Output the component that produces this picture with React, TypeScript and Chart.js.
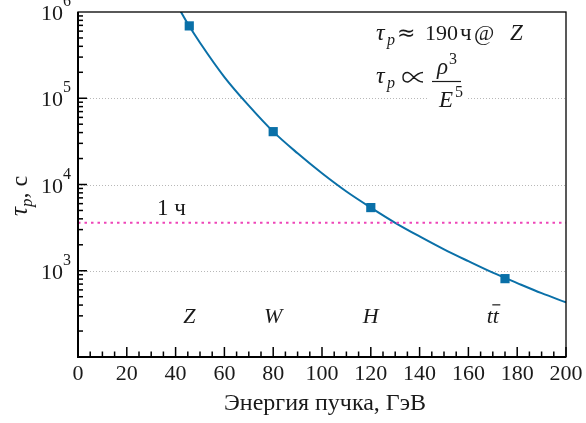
import React, { useEffect, useRef } from "react";
import { Chart, registerables } from "chart.js";

Chart.register(...registerables);

// Curve: beam energy (GeV) vs lifetime (s)
const curveEnergy = [41, 45, 50, 60, 70, 80, 90, 100, 110, 120, 130, 140, 150, 160, 170, 180, 190, 200];
const curveLifetime = [1.15e6, 7.3e5, 4.4e5, 1.76e5, 8.2e4, 4.1e4, 2.3e4, 1.35e4, 8.3e3, 5.4e3, 3.6e3, 2.5e3, 1.77e3, 1.29e3, 9.5e2, 7.2e2, 5.5e2, 4.3e2];

// Operating points
const pointEnergy = [45.6, 80, 120, 175];
const pointLifetime = [6.9e5, 4.1e4, 5.4e3, 8.1e2];
const pointNames = ["Z", "W", "H", "tt"];
const nameEnergy = [45.6, 80, 120, 170];
const nameLifetime = [300, 300, 300, 300];

const oneHour = 3600;
const hourLineEnergy = [0, 200];

const xTicks = [0, 20, 40, 60, 80, 100, 120, 140, 160, 180, 200];
const yDecades = [3, 4, 5, 6];
const gridDecades = [3, 4, 5];

const FONT = '"Liberation Serif", "DejaVu Serif", serif';
const SYM = '"DejaVu Sans", "DejaVu Serif", sans-serif';
const BLUE = "#0a70a8";
const PINK = "#ee45b8";

const decorPlugin = {
  id: "decor",
  beforeDatasetsDraw(chart: any) {
    const { ctx, chartArea: a, scales } = chart;
    const y = scales.y;
    ctx.save();
    ctx.strokeStyle = "#b8b8b8";
    ctx.lineWidth = 1;
    ctx.setLineDash([1, 2]);
    for (const d of gridDecades) {
      const py = Math.round(y.getPixelForValue(Math.pow(10, d))) + 0.5;
      ctx.beginPath();
      ctx.moveTo(a.left, py);
      ctx.lineTo(a.right, py);
      ctx.stroke();
    }
    ctx.setLineDash([]);
    // white patch behind formula denominator
    ctx.fillStyle = "#fff";
    ctx.fillRect(428, 88, 40, 22);
    ctx.restore();
  },
  afterDraw(chart: any) {
    const { ctx, chartArea: a, scales } = chart;
    const x = scales.x;
    const y = scales.y;
    ctx.save();
    // frame
    ctx.strokeStyle = "#000";
    ctx.lineWidth = 1.3;
    ctx.strokeRect(a.left, a.top, a.right - a.left, a.bottom - a.top);
    ctx.lineWidth = 2;
    ctx.beginPath();
    ctx.moveTo(a.left, a.top);
    ctx.lineTo(a.left, a.bottom);
    ctx.lineTo(a.right, a.bottom);
    ctx.stroke();

    // x ticks (inward)
    ctx.lineWidth = 1.5;
    for (let v = 0; v <= 200; v += 5) {
      const px = x.getPixelForValue(v);
      const len = v % 20 === 0 ? 10 : 5.5;
      ctx.beginPath();
      ctx.moveTo(px, a.bottom);
      ctx.lineTo(px, a.bottom - len);
      ctx.stroke();
    }
    // y ticks (inward)
    for (let d = 2; d <= 5; d++) {
      for (let m = 1; m <= 9; m++) {
        const v = m * Math.pow(10, d);
        const py = y.getPixelForValue(v);
        const len = m === 1 ? 9 : 5;
        ctx.beginPath();
        ctx.moveTo(a.left, py);
        ctx.lineTo(a.left + len, py);
        ctx.stroke();
      }
    }

    ctx.fillStyle = "#1a1a1a";
    ctx.strokeStyle = "#1a1a1a";
    // x tick labels
    ctx.font = `22px ${FONT}`;
    ctx.textAlign = "center";
    ctx.textBaseline = "alphabetic";
    for (const t of xTicks) {
      ctx.fillText(String(t), x.getPixelForValue(t), 380);
    }
    // y tick labels 10^n
    for (const d of yDecades) {
      const py = y.getPixelForValue(Math.pow(10, d));
      ctx.font = `22px ${FONT}`;
      ctx.textAlign = "right";
      ctx.fillText("10", 63, py + 8);
      ctx.font = `16px ${FONT}`;
      ctx.textAlign = "left";
      ctx.fillText(String(d), 63, py - 6);
    }

    // x title
    ctx.font = `24px ${FONT}`;
    ctx.textAlign = "center";
    ctx.fillText("Энергия пучка, ГэВ", 325, 410);

    // y title (rotated)
    ctx.save();
    ctx.translate(27, 189);
    ctx.rotate(-Math.PI / 2);
    ctx.textAlign = "left";
    ctx.font = `italic 25px ${FONT}`;
    let cx = -27;
    ctx.fillText("τ", cx, 0);
    cx += ctx.measureText("τ").width;
    ctx.font = `italic 17px ${FONT}`;
    ctx.fillText("p", cx, 5);
    cx += ctx.measureText("p").width;
    ctx.font = `24px ${FONT}`;
    ctx.fillText(", с", cx, 0);
    ctx.restore();

    // point names
    ctx.font = `italic 22px ${FONT}`;
    ctx.textAlign = "center";
    for (let i = 0; i < pointNames.length; i++) {
      const px = x.getPixelForValue(nameEnergy[i]);
      const py = y.getPixelForValue(nameLifetime[i]) + 7;
      if (pointNames[i] === "tt") {
        ctx.textAlign = "left";
        const w = ctx.measureText("tt").width;
        const sx = px - w / 2;
        ctx.fillText("tt", sx, py);
        const w1 = ctx.measureText("t").width;
        ctx.lineWidth = 1.2;
        ctx.beginPath();
        ctx.moveTo(sx + w1 - 0.5, py - 18);
        ctx.lineTo(sx + w1 + 7.5, py - 18);
        ctx.stroke();
        ctx.textAlign = "center";
      } else {
        ctx.fillText(pointNames[i], px, py);
      }
    }

    // 1 hour label
    ctx.font = `23px ${FONT}`;
    ctx.textAlign = "left";
    ctx.fillText("1 ч", 157, 215);

    // formula line 1
    ctx.font = `italic 24px ${FONT}`;
    ctx.fillText("τ", 376, 40);
    ctx.font = `italic 16px ${FONT}`;
    ctx.fillText("p", 387, 45);
    ctx.font = `22px ${SYM}`;
    ctx.fillText("≈", 397, 40);
    ctx.font = `22px ${FONT}`;
    ctx.fillText("190", 425, 40);
    ctx.font = `23px ${FONT}`;
    ctx.fillText("ч", 460, 40);
    ctx.font = `22px ${FONT}`;
    ctx.fillText("@", 474, 40);
    ctx.font = `italic 23px ${FONT}`;
    ctx.fillText("Z", 510, 40);

    // formula line 2
    ctx.font = `italic 24px ${FONT}`;
    ctx.fillText("τ", 376, 83);
    ctx.font = `italic 16px ${FONT}`;
    ctx.fillText("p", 387, 88);
    // proportional-to sign
    ctx.lineWidth = 1.4;
    ctx.beginPath();
    ctx.moveTo(423, 72.5);
    ctx.bezierCurveTo(415, 72.5, 411.5, 82, 407.5, 82);
    ctx.bezierCurveTo(404.5, 82, 403, 80, 403, 77.3);
    ctx.bezierCurveTo(403, 74.6, 404.5, 72.5, 407.5, 72.5);
    ctx.bezierCurveTo(411.5, 72.5, 415, 82, 423, 82);
    ctx.stroke();
    ctx.font = `italic 23px ${FONT}`;
    ctx.fillText("ρ", 437, 74);
    ctx.font = `16px ${FONT}`;
    ctx.fillText("3", 449, 64);
    ctx.font = `italic 23px ${FONT}`;
    ctx.fillText("E", 439, 107);
    ctx.font = `16px ${FONT}`;
    ctx.fillText("5", 455, 97);
    ctx.lineWidth = 1.2;
    ctx.beginPath();
    ctx.moveTo(432, 81.5);
    ctx.lineTo(461, 81.5);
    ctx.stroke();

    ctx.restore();
  },
};

export default function App() {
  const ref = useRef<HTMLCanvasElement | null>(null);
  useEffect(() => {
    if (!ref.current) return;
    const chart = new Chart(ref.current, {
      type: "scatter",
      data: {
        datasets: [
          {
            label: "1 ч",
            data: hourLineEnergy.map((e) => ({ x: e, y: oneHour })),
            showLine: true,
            borderColor: PINK,
            borderWidth: 2,
            borderDash: [2.5, 4],
            pointRadius: 0,
          },
          {
            label: "curve",
            data: curveEnergy.map((e, i) => ({ x: e, y: curveLifetime[i] })),
            showLine: true,
            borderColor: BLUE,
            borderWidth: 2,
            pointRadius: 0,
            cubicInterpolationMode: "monotone",
          },
          {
            label: "points",
            data: pointEnergy.map((e, i) => ({ x: e, y: pointLifetime[i] })),
            showLine: false,
            pointStyle: "rect",
            pointRadius: 6.5,
            backgroundColor: BLUE,
            borderColor: BLUE,
            borderWidth: 0,
          },
        ],
      },
      options: {
        animation: false,
        responsive: false,
        maintainAspectRatio: false,
        layout: { padding: { left: 78, right: 20, top: 12, bottom: 66 } },
        plugins: {
          legend: { display: false },
          tooltip: { enabled: false },
        },
        scales: {
          x: {
            type: "linear",
            min: 0,
            max: 200,
            ticks: { display: false },
            grid: { display: false, drawTicks: false },
            border: { display: false },
          },
          y: {
            type: "logarithmic",
            min: 100,
            max: 1e6,
            ticks: { display: false },
            grid: { display: false, drawTicks: false },
            border: { display: false },
          },
        },
      },
      plugins: [decorPlugin],
    });
    return () => chart.destroy();
  }, []);
  return (
    <div style={{ position: "fixed", left: 0, top: 0, width: 586, height: 423, background: "#fff" }}>
      <canvas ref={ref} width={586} height={423} style={{ width: 586, height: 423 }} />
    </div>
  );
}
